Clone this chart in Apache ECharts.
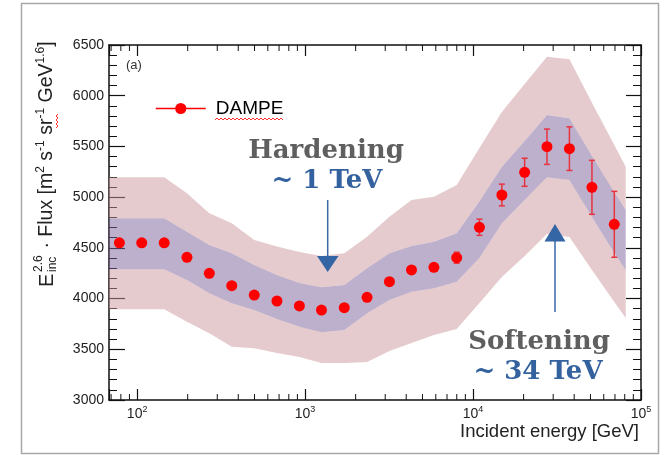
<!DOCTYPE html>
<html><head><meta charset="utf-8">
<script src="https://cdn.jsdelivr.net/npm/echarts@6/dist/echarts.min.js"></script>
<style>html,body{margin:0;padding:0;background:#fff}#c{width:664px;height:455px}</style>
</head><body><div id="c"></div>
<script>
// ---- axis ranges / tick labels ----
const X_MIN = 68, X_MAX = 100000;
const Y_MIN = 3000, Y_MAX = 6500, Y_STEP = 500;
const X_TICK_EXPONENTS = [2, 3, 4, 5];
const MINOR_X_TICKS = [70, 80, 90,
  200, 300, 400, 500, 600, 700, 800, 900,
  2000, 3000, 4000, 5000, 6000, 7000, 8000, 9000,
  20000, 30000, 40000, 50000, 60000, 70000, 80000, 90000];

// ---- DAMPE data points ----
const ENERGY = [78.4, 106.5, 145, 198, 269, 366, 498, 680, 925, 1252, 1711, 2338,
  3178, 4302, 5848, 7992, 10917, 14844, 20283, 27556, 37480, 51050, 69340];
const FLUX = [4550, 4550, 4550, 4407, 4249, 4127, 4035, 3976, 3927, 3887, 3910, 4012,
  4166, 4282, 4308, 4403, 4703, 5021, 5245, 5497, 5478, 5097, 4732];
const FLUX_ERR = [10, 10, 10, 10, 10, 10, 10, 10, 12, 12, 14, 16,
  18, 22, 30, 54, 80, 107, 138, 174, 215, 266, 325];

// ---- systematic bands ----
const BAND_E = [68, 78.4, 106.5, 145, 198, 269, 366, 498, 680, 925, 1252, 1711, 2338,
  3178, 4302, 5848, 7992, 10917, 14844, 20283, 27556, 37480, 51050, 69340, 81100];
const OUTER_HI = [5196, 5196, 5196, 5196, 5038, 4841, 4742, 4577, 4513, 4459, 4420, 4446, 4610,
  4807, 4972, 5004, 5120, 5484, 5839, 6115, 6385, 6359, 5930, 5514, 5300];
const INNER_HI = [4791, 4791, 4791, 4791, 4659, 4528, 4446, 4331, 4232, 4153, 4111, 4134, 4298,
  4446, 4518, 4561, 4643, 4959, 5300, 5553, 5810, 5777, 5408, 5051, 4873];
const INNER_LO = [4289, 4289, 4289, 4289, 4183, 4052, 3953, 3887, 3799, 3723, 3667, 3690, 3855,
  3986, 4068, 4101, 4166, 4400, 4742, 4972, 5196, 5169, 4804, 4449, 4282];
const OUTER_LO = [3894, 3894, 3894, 3894, 3772, 3658, 3525, 3510, 3463, 3424, 3365, 3365, 3375,
  3483, 3562, 3641, 3700, 3956, 4213, 4420, 4637, 4607, 4282, 3966, 3808];

const FONT = '"Liberation Sans", Arial, sans-serif';
const SERIF = '"DejaVu Serif", serif';
const AX = '#111';

function bandSeries(name, lo, hi, color) {
  return {
    type: 'custom', name: name, z: 2, silent: true,
    data: BAND_E.map((e, i) => [e, lo[i], hi[i]]),
    renderItem: function (params, api) {
      if (params.dataIndex !== 0) return null;
      const pts = [];
      for (let i = 0; i < BAND_E.length; i++) pts.push(api.coord([BAND_E[i], hi[i]]));
      for (let i = BAND_E.length - 1; i >= 0; i--) pts.push(api.coord([BAND_E[i], lo[i]]));
      return { type: 'polygon', shape: { points: pts }, style: { fill: color, stroke: null } };
    }
  };
}

function xLabel(v) {
  const e = Math.round(Math.log10(v));
  if (Math.abs(v - Math.pow(10, e)) > 1e-6 * v) return '';
  if (X_TICK_EXPONENTS.indexOf(e) < 0) return '';
  return '{b|10}{s|' + e + '}';
}

function squiggle(x0, y0, n, step, amp, vertical) {
  const pts = [];
  for (let i = 0; i <= n; i++) {
    const d = i * step, o = (i % 2) ? -amp : 0;
    pts.push(vertical ? [x0 + o, y0 + d] : [x0 + d, y0 + o]);
  }
  return pts;
}

const chart = echarts.init(document.getElementById('c'), null, { renderer: 'canvas' });
chart.setOption({
  animation: false,
  backgroundColor: '#ffffff',
  grid: { left: 109, right: 23, top: 45, bottom: 55, containLabel: false, outerBoundsMode: 'none' },
  legend: {
    data: ['DAMPE'], left: 155, top: 99, padding: 0,
    itemWidth: 50, itemHeight: 14,
    textStyle: { fontFamily: FONT, fontSize: 19, color: '#000', padding: [0, 0, 0, 5] },
    lineStyle: { opacity: 1, width: 1.5, color: '#ff0000' },
    selectedMode: false
  },
  xAxis: [{
    type: 'log', logBase: 10, min: X_MIN, max: X_MAX, position: 'bottom',
    axisLine: { onZero: false, lineStyle: { color: AX, width: 1.5 } },
    axisTick: { inside: true, length: 11, lineStyle: { color: AX, width: 1.2 } },
    minorTick: { show: false }, splitLine: { show: false },
    axisLabel: {
      margin: 5, formatter: xLabel, color: '#222',
      rich: {
        b: { fontFamily: FONT, fontSize: 14, lineHeight: 18, color: '#222' },
        s: { fontFamily: FONT, fontSize: 9, lineHeight: 8, verticalAlign: 'top', color: '#222' }
      }
    },
    name: 'Incident energy [GeV]', nameLocation: 'end', nameGap: -2,
    nameTextStyle: { fontFamily: FONT, fontSize: 18.5, color: '#222', align: 'right', verticalAlign: 'top', padding: [22, 0, 0, 0] }
  }, {
    type: 'log', logBase: 10, min: X_MIN, max: X_MAX, position: 'top',
    axisLine: { onZero: false, lineStyle: { color: AX, width: 1.5 } },
    axisTick: { inside: true, length: 11, lineStyle: { color: AX, width: 1.2 } },
    axisLabel: { show: false }, splitLine: { show: false }, minorTick: { show: false }
  }],
  yAxis: [{
    type: 'value', min: Y_MIN, max: Y_MAX, interval: Y_STEP, position: 'left',
    axisLine: { show: true, onZero: false, lineStyle: { color: AX, width: 1.5 } },
    axisTick: { show: true, inside: true, length: 16, lineStyle: { color: AX, width: 1.2 } },
    minorTick: { show: true, splitNumber: 5, length: 8, lineStyle: { color: AX, width: 1 } },
    axisLabel: { margin: 5, fontFamily: FONT, fontSize: 14, color: '#222', formatter: v => String(v) },
    splitLine: { show: false }
  }, {
    type: 'value', min: Y_MIN, max: Y_MAX, interval: Y_STEP, position: 'right',
    axisLine: { show: true, onZero: false, lineStyle: { color: AX, width: 1.5 } },
    axisTick: { show: true, inside: true, length: 15, lineStyle: { color: AX, width: 1.2 } },
    minorTick: { show: true, splitNumber: 5, length: 8, lineStyle: { color: AX, width: 1 } },
    axisLabel: { show: false }, splitLine: { show: false }
  }],
  series: [
    {
      type: 'custom', name: 'minorTicks', z: 1, silent: true,
      data: MINOR_X_TICKS.map(v => [v, Y_MIN]),
      renderItem: function (params, api) {
        const b = api.coord([api.value(0), Y_MIN]);
        const t = api.coord([api.value(0), Y_MAX]);
        const st = { stroke: AX, lineWidth: 1 };
        return { type: 'group', children: [
          { type: 'line', shape: { x1: b[0], y1: b[1], x2: b[0], y2: b[1] - 6 }, style: st },
          { type: 'line', shape: { x1: t[0], y1: t[1], x2: t[0], y2: t[1] + 6 }, style: st }
        ] };
      }
    },
    bandSeries('outerLow', OUTER_LO, INNER_LO, 'rgba(204,152,155,0.5)'),
    bandSeries('inner', INNER_LO, INNER_HI, 'rgba(122,98,154,0.5)'),
    bandSeries('outerHigh', INNER_HI, OUTER_HI, 'rgba(204,152,155,0.5)'),
    {
      type: 'custom', name: 'errors', z: 4, silent: true,
      data: ENERGY.map((e, i) => [e, FLUX[i] - FLUX_ERR[i], FLUX[i] + FLUX_ERR[i]]),
      renderItem: function (params, api) {
        const lo = api.coord([api.value(0), api.value(1)]);
        const hi = api.coord([api.value(0), api.value(2)]);
        const st = { stroke: '#e8333f', lineWidth: 1.5 };
        return { type: 'group', children: [
          { type: 'line', shape: { x1: lo[0], y1: lo[1], x2: hi[0], y2: hi[1] }, style: st },
          { type: 'line', shape: { x1: lo[0] - 3, y1: lo[1], x2: lo[0] + 3, y2: lo[1] }, style: st },
          { type: 'line', shape: { x1: hi[0] - 3, y1: hi[1], x2: hi[0] + 3, y2: hi[1] }, style: st }
        ] };
      }
    },
    {
      type: 'line', name: 'DAMPE', z: 5, color: '#ff0000',
      data: ENERGY.map((e, i) => [e, FLUX[i]]),
      symbol: 'circle', symbolSize: 11, showSymbol: true,
      itemStyle: { color: '#ff0000' },
      lineStyle: { opacity: 0, color: '#ff0000' },
      emphasis: { disabled: true }
    }
  ],
  graphic: [
    { type: 'rect', silent: true, z: -10, shape: { x: 21.5, y: 3.5, width: 637, height: 450 },
      style: { fill: 'none', stroke: '#a8a8a8', lineWidth: 1.5 } },
    { type: 'text', silent: true, z: 20, x: 126, y: 65,
      style: { text: '(a)', font: '13px ' + FONT, fill: '#333', align: 'left', verticalAlign: 'middle' } },
    { type: 'group', silent: true, z: 20, x: 47, y: 287, rotation: Math.PI / 2, children: [
      { type: 'text', z: 20, x: 0, y: 0, style: { text: 'E', font: '20px ' + FONT, fill: '#222', align: 'left', verticalAlign: 'middle' } },
      { type: 'text', z: 20, x: 15, y: -8, style: { text: '2.6', font: '12px ' + FONT, fill: '#222', align: 'left', verticalAlign: 'middle' } },
      { type: 'text', z: 20, x: 15, y: 6, style: { text: 'inc', font: '12px ' + FONT, fill: '#222', align: 'left', verticalAlign: 'middle' } },
      { type: 'text', z: 20, x: 33, y: 0, style: {
        text: ' \u00b7 Flux [m{s|2} s{s|-1} sr{s|-1} GeV{s|1.6}]',
        font: '19.5px ' + FONT, fill: '#222', align: 'left', verticalAlign: 'middle', lineHeight: 24,
        rich: { s: { fontFamily: FONT, fontSize: 12, lineHeight: 12, verticalAlign: 'top', fill: '#222' } }
      } }
    ] },
    { type: 'text', silent: true, z: 20, x: 326, y: 151,
      style: { text: 'Hardening', font: 'bold 26px ' + SERIF, fill: '#5f5f5f', align: 'center', verticalAlign: 'middle' } },
    { type: 'text', silent: true, z: 20, x: 327, y: 181,
      style: { text: '~ 1 TeV', font: 'bold 26px ' + SERIF, fill: '#34629e', align: 'center', verticalAlign: 'middle' } },
    { type: 'line', silent: true, z: 20, shape: { x1: 327.7, y1: 200, x2: 327.7, y2: 258 }, style: { stroke: '#3a67a8', lineWidth: 1.5 } },
    { type: 'polygon', silent: true, z: 20, shape: { points: [[317, 256], [338.5, 256], [327.7, 272]] }, style: { fill: '#3465a4' } },
    { type: 'text', silent: true, z: 20, x: 539, y: 342,
      style: { text: 'Softening', font: 'bold 26px ' + SERIF, fill: '#5f5f5f', align: 'center', verticalAlign: 'middle' } },
    { type: 'text', silent: true, z: 20, x: 538, y: 372,
      style: { text: '~ 34 TeV', font: 'bold 26px ' + SERIF, fill: '#34629e', align: 'center', verticalAlign: 'middle' } },
    { type: 'line', silent: true, z: 20, shape: { x1: 555, y1: 240, x2: 555, y2: 312 }, style: { stroke: '#3a67a8', lineWidth: 1.5 } },
    { type: 'polygon', silent: true, z: 20, shape: { points: [[544.5, 241.5], [565.5, 241.5], [555, 224]] }, style: { fill: '#3465a4' } },
    { type: 'polyline', silent: true, z: 20, shape: { points: squiggle(215, 120, 34, 2, 2, false) },
      style: { stroke: '#ff3030', lineWidth: 1, fill: null } },
    { type: 'polyline', silent: true, z: 20, shape: { points: squiggle(58, 114, 7, 2, 2, true) },
      style: { stroke: '#ff3030', lineWidth: 1, fill: null } }
  ]
});
</script></body></html>
